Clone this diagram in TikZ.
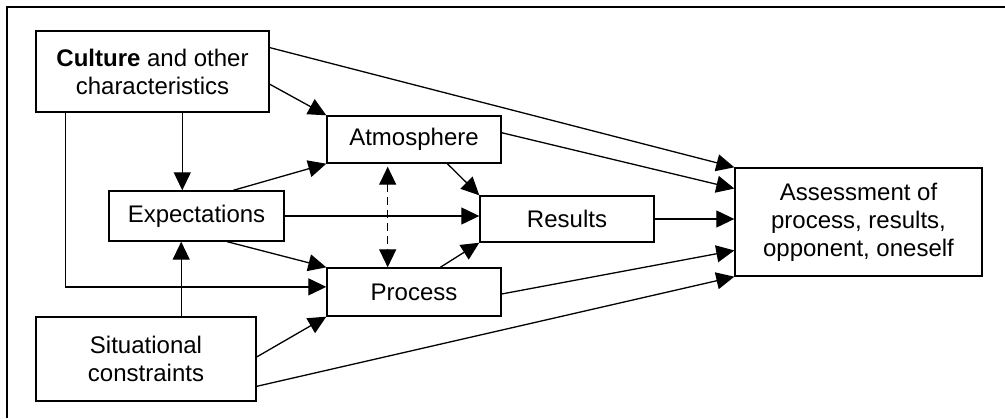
\documentclass[tikz,border=0pt]{standalone}
\usepackage{fontspec}
\setmainfont{Liberation Sans}
\usetikzlibrary{arrows.meta,calc}
\begin{document}
\begin{tikzpicture}[x=0.5pt,y=-0.5pt,
  box/.style={draw,line width=0.7pt,inner sep=0pt,align=center,font=\fontsize{12pt}{14pt}\selectfont},
  arr/.style={line width=0.65pt,-{Triangle[length=9pt,width=8.5pt]}},
  darr/.style={line width=0.65pt,dash pattern=on 4pt off 2.5pt,{Triangle[length=9pt,width=8.5pt]}-{Triangle[length=9pt,width=8.5pt]}}]
\useasboundingbox (0,0) rectangle (1005,418);
\draw[line width=0.7pt] (7,418) -- (7,7) -- (1005,7);
\node[box,minimum width=116.5pt,minimum height=40.5pt] (cul) at (152.5,71.5) {\textbf{Culture} and other\\characteristics};
\node[box,minimum width=87.5pt,minimum height=25pt] (exp) at (196.5,216) {Expectations};
\node[box,minimum width=87pt,minimum height=23.5pt] (atm) at (414,139.5) {Atmosphere};
\node[box,minimum width=87pt,minimum height=23pt] (res) at (567,219) {Results};
\node[box,minimum width=87pt,minimum height=24pt] (pro) at (414,292) {Process};
\node[box,minimum width=110pt,minimum height=42pt] (sit) at (146,359) {Situational\\constraints};
\node[box,minimum width=123.5pt,minimum height=54pt] (ass) at (858.5,222) {Assessment of\\process, results,\\opponent, oneself};
% Culture
\draw[arr] ($(cul.north east)!0.21!(cul.south east)$) -- (ass.north west);
\draw[arr] ($(cul.north east)!0.654!(cul.south east)$) -- (atm.north west);
\coordinate (c3) at ($(cul.south west)!0.627!(cul.south east)$);
\draw[arr] (c3) -- (c3 |- exp.north);
\coordinate (c4) at ($(cul.south west)!0.129!(cul.south east)$);
\coordinate (p4) at ($(pro.north west)!0.396!(pro.south west)$);
\draw[arr] (c4) |- (p4);
% Expectations
\draw[arr] ($(exp.north west)!0.709!(exp.north east)$) -- (atm.south west);
\draw[arr] (exp.east) -- (exp.east -| res.west);
\draw[arr] ($(exp.south west)!0.674!(exp.south east)$) -- (pro.north west);
% Situational
\coordinate (s8) at ($(sit.north west)!0.659!(sit.north east)$);
\draw[arr] (s8) -- (s8 |- exp.south);
\draw[arr] ($(sit.north east)!0.476!(sit.south east)$) -- (pro.south west);
\draw[arr] ($(sit.north east)!0.82!(sit.south east)$) -- (ass.south west);
% Atmosphere
\draw[arr] ($(atm.north east)!0.36!(atm.south east)$) -- ($(ass.north west)!0.194!(ass.south west)$);
\draw[arr] ($(atm.south west)!0.69!(atm.south east)$) -- (res.north west);
\coordinate (d1) at ($(atm.south west)!0.35!(atm.south east)$);
\draw[darr,shorten <=1.5pt] (d1) -- (d1 |- pro.north);
% Process
\draw[arr] ($(pro.north west)!0.65!(pro.north east)$) -- (res.south west);
\draw[arr] ($(pro.north east)!0.54!(pro.south east)$) -- ($(ass.north west)!0.76!(ass.south west)$);
% Results
\draw[arr] (res.east) -- (res.east -| ass.west);
\end{tikzpicture}
\end{document}
